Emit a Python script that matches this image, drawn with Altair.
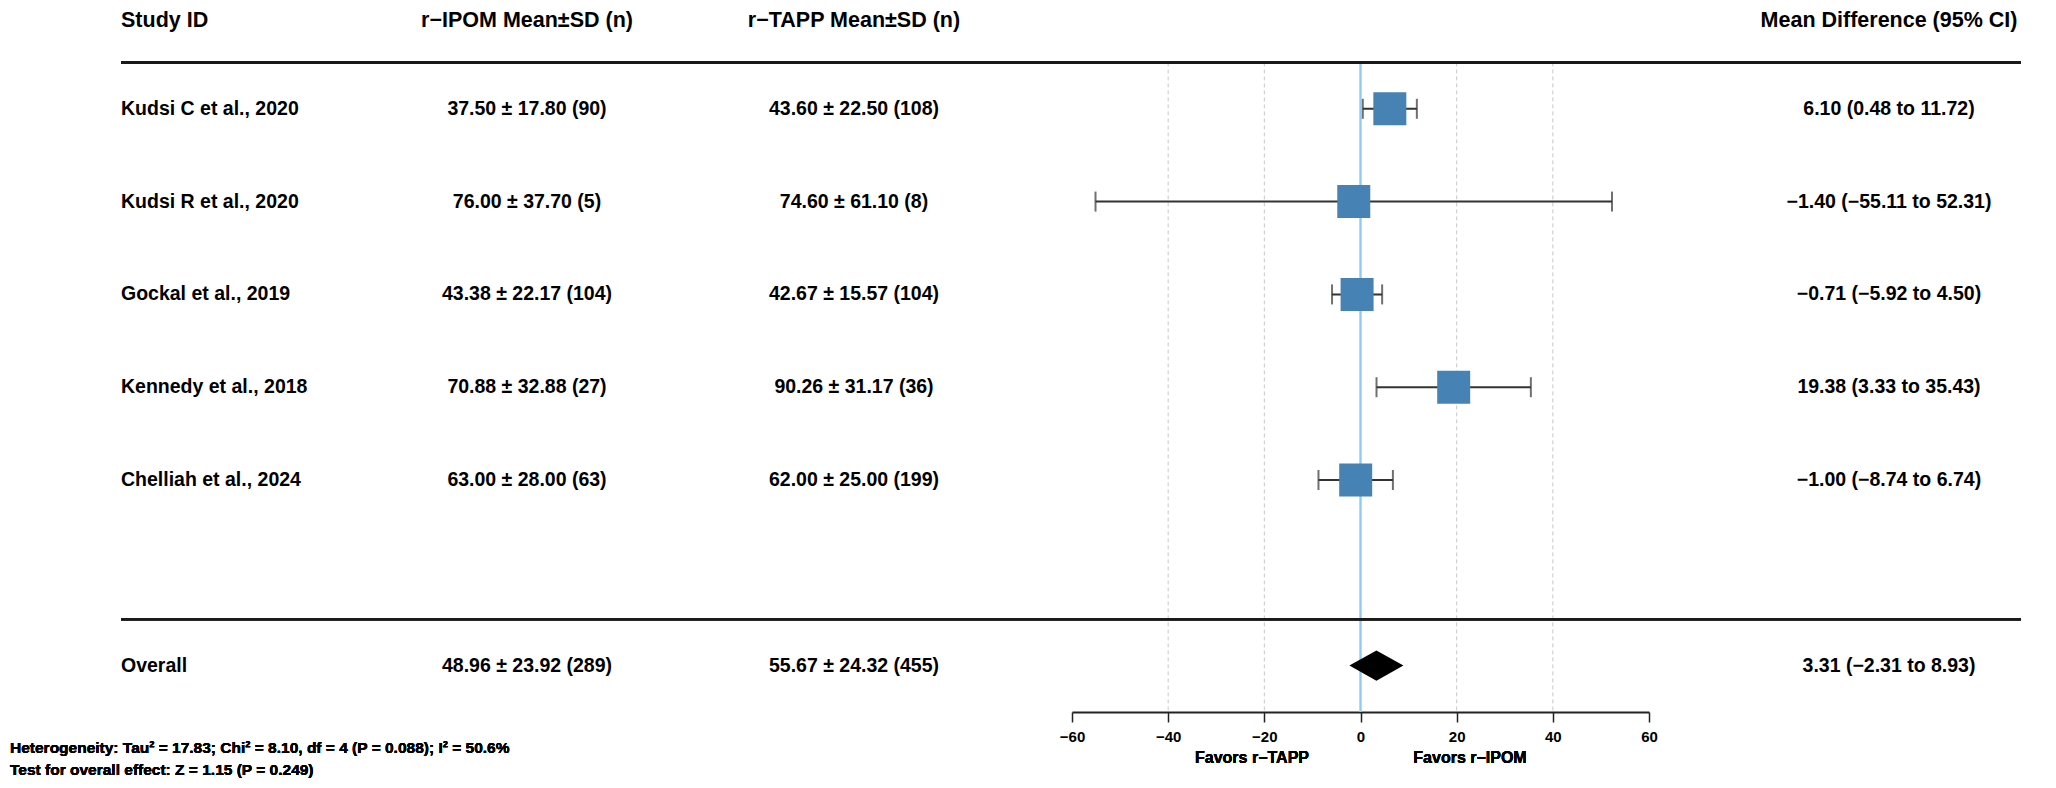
import altair as alt
import pandas as pd

# ---------------- data ----------------
studies = ["Kudsi C et al., 2020", "Kudsi R et al., 2020", "Gockal et al., 2019",
           "Kennedy et al., 2018", "Chelliah et al., 2024"]
ipom_mean = [37.50, 76.00, 43.38, 70.88, 63.00]
ipom_sd = [17.80, 37.70, 22.17, 32.88, 28.00]
ipom_n = [90, 5, 104, 27, 63]
tapp_mean = [43.60, 74.60, 42.67, 90.26, 62.00]
tapp_sd = [22.50, 61.10, 15.57, 31.17, 25.00]
tapp_n = [108, 8, 104, 36, 199]
md = [6.10, -1.40, -0.71, 19.38, -1.00]
md_lo = [0.48, -55.11, -5.92, 3.33, -8.74]
md_hi = [11.72, 52.31, 4.50, 35.43, 6.74]

overall_label = "Overall"
overall_ipom = [48.96, 23.92, 289]
overall_tapp = [55.67, 24.32, 455]
overall_md = [3.31, -2.31, 8.93]

headers = ["Study ID", "r−IPOM Mean±SD (n)", "r−TAPP Mean±SD (n)", "Mean Difference (95% CI)"]
x_ticks = [-60, -40, -20, 0, 20, 40, 60]
grid_vals = [-40, -20, 20, 40]
favors = ["Favors r−TAPP", "Favors r−IPOM"]
footer = ["Heterogeneity: Tau² = 17.83; Chi² = 8.10, df = 4 (P = 0.088); I² = 50.6%",
          "Test for overall effect: Z = 1.15 (P = 0.249)"]


def f2(v):
    return f"{v:.2f}".replace("-", "−")


study_rows = list(range(len(studies)))
overall_row = len(studies) + 1

tab = pd.DataFrame({
    "label": studies + [overall_label],
    "ipom": [f"{m:.2f} ± {s:.2f} ({n})" for m, s, n in zip(ipom_mean, ipom_sd, ipom_n)]
            + ["{:.2f} ± {:.2f} ({})".format(*overall_ipom)],
    "tapp": [f"{m:.2f} ± {s:.2f} ({n})" for m, s, n in zip(tapp_mean, tapp_sd, tapp_n)]
            + ["{:.2f} ± {:.2f} ({})".format(*overall_tapp)],
    "mdtxt": [f"{f2(e)} ({f2(l)} to {f2(h)})" for e, l, h in zip(md, md_lo, md_hi)]
             + [f"{f2(overall_md[0])} ({f2(overall_md[1])} to {f2(overall_md[2])})"],
    "row": study_rows + [overall_row],
})

forest = pd.DataFrame({"row": study_rows, "md": md, "lo": md_lo, "hi": md_hi})
caps = pd.DataFrame({"row": study_rows + study_rows, "x": md_lo + md_hi})

dia = pd.DataFrame({
    "x": [overall_md[1], overall_md[0], overall_md[2]],
    "w": [0, 1, 0],
    "row": [overall_row] * 3,
})

hdr = pd.DataFrame({"h": headers, "row": [-1] * 4})
grid_df = pd.DataFrame({"g": grid_vals})

# ---------------- styling / scales ----------------
FONT = "Liberation Sans"
XS = alt.Scale(domain=[-60, 60], range=[1064, 1641], nice=False, zero=False)
YS = alt.Scale(domain=[-1, 6.5], range=[8, 704], nice=False, zero=False)
XA = alt.Axis(values=x_ticks, title=None, grid=False, domainColor="#222222", domainWidth=2,
              tickColor="#222222", tickWidth=1.5, tickSize=10, labelFont=FONT,
              labelFontWeight="bold", labelFontSize=15, labelColor="black",
              labelPadding=7, labelFlush=False)

COLX = {"label": 113, "ipom": 519, "tapp": 846, "mdtxt": 1881}
HDRX = [113, 519, 846, 1881]
BODY = 19.5
HEAD = 21.5

layers = []

# vertical gridlines
layers.append(alt.Chart(grid_df).mark_rule(color="#c8c8c8", strokeWidth=1, strokeDash=[4, 3]).encode(
    x=alt.X("g:Q", scale=XS, axis=XA),
    y=alt.Y(datum=-0.5, type="quantitative", scale=YS, axis=None),
    y2=alt.Y2(datum=6.5),
))
# zero line
layers.append(alt.Chart(grid_df).mark_rule(color="#8ecbf2", strokeWidth=1.5).encode(
    x=alt.X(datum=0, type="quantitative", scale=XS, axis=XA),
    y=alt.Y(datum=-0.5, type="quantitative", scale=YS, axis=None),
    y2=alt.Y2(datum=6.5),
))
# horizontal separator lines
for yv in [-0.5, 5.5]:
    layers.append(alt.Chart(grid_df).mark_rule(color="#1a1a1a", strokeWidth=2.5).encode(
        x=alt.value(113), x2=alt.value(2013),
        y=alt.Y(datum=yv, type="quantitative", scale=YS, axis=None),
    ))

# CI whiskers
layers.append(alt.Chart(forest).mark_rule(color="#333333", strokeWidth=2).encode(
    x=alt.X("lo:Q", scale=XS, axis=XA), x2="hi:Q",
    y=alt.Y("row:Q", scale=YS, axis=None),
))
layers.append(alt.Chart(caps).mark_tick(color="#333333", orient="vertical", size=20, thickness=2).encode(
    x=alt.X("x:Q", scale=XS, axis=XA),
    y=alt.Y("row:Q", scale=YS, axis=None),
))
# squares
layers.append(alt.Chart(forest).mark_square(color="#4682B4", opacity=1, size=1089).encode(
    x=alt.X("md:Q", scale=XS, axis=XA),
    y=alt.Y("row:Q", scale=YS, axis=None),
))
# diamond
layers.append(alt.Chart(dia).transform_calculate(
    ytop="datum.row - datum.w * 0.162", ybot="datum.row + datum.w * 0.162"
).mark_area(color="black", opacity=1, orient="vertical").encode(
    x=alt.X("x:Q", scale=XS, axis=XA),
    y=alt.Y("ytop:Q", scale=YS, axis=None),
    y2="ybot:Q",
))

# table text
for col, align in [("label", "left"), ("ipom", "center"), ("tapp", "center"), ("mdtxt", "center")]:
    layers.append(alt.Chart(tab).mark_text(font=FONT, fontWeight="bold", fontSize=BODY, align=align,
                                           baseline="middle", color="black").encode(
        x=alt.value(COLX[col]),
        y=alt.Y("row:Q", scale=YS, axis=None),
        text=f"{col}:N",
    ))
# header text
for i, h in enumerate(headers):
    layers.append(alt.Chart(hdr).transform_filter(alt.datum.h == h).mark_text(
        font=FONT, fontWeight="bold", fontSize=HEAD, align="left" if i == 0 else "center",
        baseline="middle", color="black", dy=5).encode(
        x=alt.value(HDRX[i]),
        y=alt.Y("row:Q", scale=YS, axis=None),
        text="h:N",
    ))

# favors labels
for txt, px in zip(favors, [1244, 1462]):
    layers.append(alt.Chart(grid_df).mark_text(font=FONT, fontWeight="bold", fontSize=16,
                                               align="center", baseline="middle", color="black", text=txt).encode(
        x=alt.value(px), y=alt.value(750)))

# footer
for txt, py in zip(footer, [740, 762]):
    layers.append(alt.Chart(grid_df).mark_text(font=FONT, fontWeight="bold", fontSize=15.5,
                                               align="left", baseline="middle", color="black", text=txt).encode(
        x=alt.value(2), y=alt.value(py)))

chart = alt.layer(*layers).properties(
    width=2040, height=704,
    autosize=alt.AutoSizeParams(type="none"),
    padding={"left": 0, "top": 0, "right": 0, "bottom": 68},
    background="white",
).configure_view(strokeWidth=0)

chart.save("out.html", embed_options={"renderer": "svg", "actions": False})
